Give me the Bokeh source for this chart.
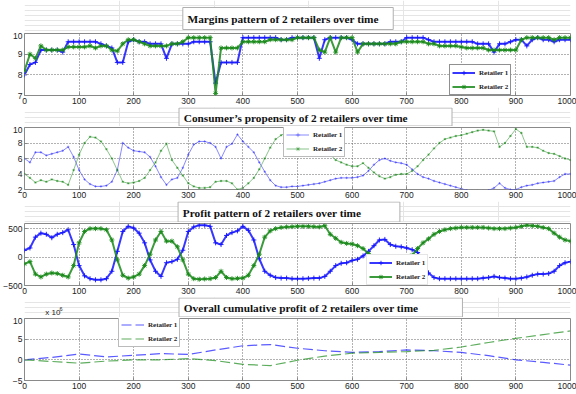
from bokeh.plotting import figure
from bokeh.models import Legend, LegendItem, FixedTicker, Range1d
from bokeh.layouts import column
from bokeh.core.properties import value
from bokeh.embed import file_html
from bokeh.resources import INLINE

# ---------------- data ----------------
t10 = list(range(0, 1001, 10))
t50 = list(range(0, 1001, 50))
x_ticks = [0, 100, 200, 300, 400, 500, 600, 700, 800, 900, 1000]
series_names = ["Retailer 1", "Retailer 2"]

margin_r1 = [8.0, 8.5, 8.6, 9.2, 9.2, 9.2, 9.2, 9.1, 9.6, 9.6,
             9.6, 9.6, 9.6, 9.6, 9.5, 9.4, 9.3, 8.6, 8.6, 9.6,
             9.7, 9.6, 9.6, 9.5, 9.5, 9.5, 8.8, 9.5, 9.5, 9.5,
             9.5, 9.6, 9.6, 9.6, 9.6, 7.6, 8.6, 8.6, 8.6, 8.6,
             9.8, 9.8, 9.8, 9.8, 9.8, 9.8, 9.8, 9.7, 9.7, 9.8,
             9.8, 9.8, 9.8, 9.8, 8.8, 9.7, 9.8, 9.8, 9.8, 9.8,
             9.7, 9.5, 9.5, 9.5, 9.5, 9.5, 9.5, 9.6, 9.6, 9.6,
             9.8, 9.8, 9.8, 9.8, 9.7, 9.6, 9.6, 9.6, 9.6, 9.6,
             9.6, 9.6, 9.6, 9.5, 9.5, 9.5, 9.1, 9.5, 9.5, 9.6,
             9.7, 9.7, 9.4, 9.7, 9.8, 9.7, 9.7, 9.6, 9.7, 9.7,
             9.7]
margin_r2 = [8.2, 9.0, 8.8, 9.4, 9.2, 9.2, 9.2, 9.2, 9.35, 9.35,
             9.35, 9.35, 9.4, 9.3, 9.4, 9.4, 9.2, 9.15, 9.5, 9.7,
             9.7, 9.6, 9.5, 9.4, 9.4, 9.4, 9.4, 9.5, 9.5, 9.6,
             9.8, 9.8, 9.8, 9.8, 9.8, 7.1, 9.3, 9.3, 9.3, 9.3,
             9.6, 9.6, 9.6, 9.6, 9.6, 9.7, 9.7, 9.7, 9.7, 9.7,
             9.8, 9.8, 9.8, 9.8, 9.2, 9.1, 9.8, 9.1, 9.8, 9.8,
             9.8, 9.1, 9.5, 9.5, 9.5, 9.5, 9.5, 9.5, 9.5, 9.6,
             9.6, 9.6, 9.6, 9.6, 9.5, 9.5, 9.4, 9.4, 9.4, 9.4,
             9.35, 9.3, 9.3, 9.3, 9.3, 9.2, 9.2, 9.2, 9.2, 9.2,
             9.2, 9.7, 9.8, 9.8, 9.8, 9.8, 9.8, 9.7, 9.8, 9.8,
             9.8]

propensity_r1 = [6.0, 5.5, 6.8, 6.8, 6.4, 6.6, 6.8, 7.0, 7.5, 6.2,
                 4.5, 3.3, 2.7, 2.4, 2.4, 2.5, 3.0, 4.5, 8.0, 7.4,
                 7.0, 6.9, 6.8, 6.2, 5.0, 3.6, 2.6, 3.3, 3.5, 4.8,
                 6.5, 7.8, 8.2, 8.2, 8.0, 7.5, 6.0, 7.5, 7.9, 9.1,
                 8.2, 7.5, 6.8, 5.5, 4.3, 3.2, 2.5, 2.3, 2.3, 2.4,
                 2.4, 2.5, 2.6, 2.7, 2.8, 3.0, 3.2, 3.4, 3.5, 3.5,
                 3.5, 3.6, 3.8, 4.4, 5.2, 5.8, 6.0, 5.7, 5.5, 5.4,
                 5.2, 4.6, 4.0, 3.6, 3.4, 3.1, 2.9, 2.7, 2.5, 2.3,
                 2.1, 1.9, 1.8, 1.8, 1.8, 1.9, 2.2, 2.8, 2.2, 2.0,
                 2.0, 2.3, 2.5, 2.6, 2.8, 2.9, 3.0, 3.1, 3.6, 4.0,
                 4.0]
propensity_r2 = [4.0, 3.5, 2.9, 3.2, 3.0, 3.3, 3.1, 3.0, 2.6, 4.5,
                 6.5, 8.0, 8.8, 8.7, 8.2, 7.2, 6.0, 4.5, 3.0, 2.8,
                 2.9, 3.1, 3.5, 4.5, 5.5, 7.0, 7.9, 5.8, 4.8, 3.8,
                 2.8, 2.4, 2.2, 2.2, 2.3, 3.0, 3.1, 3.1, 2.8, 2.0,
                 2.2, 2.8, 3.5, 4.6, 6.0, 7.4, 8.5, 9.0, 9.4, 9.2,
                 9.0, 8.8, 8.6, 8.4, 8.2, 7.5, 6.5, 5.8, 5.5, 5.2,
                 5.0, 5.0, 5.4, 4.8, 4.2, 3.7, 3.4, 3.6, 3.9, 4.0,
                 4.0, 4.4, 5.0, 5.8, 6.5, 7.3, 8.0, 8.5, 8.7, 8.9,
                 9.0, 9.2, 9.4, 9.6, 9.7, 9.6, 9.5, 7.5, 8.0, 8.9,
                 9.8, 9.3, 7.5, 7.5, 7.4, 7.0, 6.7, 6.6, 6.3, 6.0,
                 5.8]

profit_r1 = [120, 160, 350, 420, 400, 340, 400, 430, 480, 220,
             -150, -330, -380, -400, -400, -380, -250, 100, 450, 540,
             510, 420, 250, -50, -250, -340, -100, -80, -40, 120,
             450, 530, 560, 560, 540, 250, 220, 380, 430, 460,
             540, 470, 300, -30, -250, -320, -360, -370, -370, -380,
             -380, -380, -375, -370, -370, -340, -250, -150, -110, -100,
             -60, -40, 20, 100, 200, 300, 310, 220, 190, 180,
             160, 130, 80, -100, -280, -360, -380, -380, -380, -380,
             -380, -380, -380, -380, -370, -360, -340, -360, -370, -380,
             -380, -370, -350, -320, -300, -300, -290, -250, -150, -100,
             -80]
profit_r2 = [-120, -80, -300, -350, -300, -280, -290, -320, -350, -150,
             250, 450, 500, 500, 500, 480, 300, -50, -320, -370,
             -350, -300, -150, 50, 300, 450, 280, 280, 180, -50,
             -300, -380, -390, -385, -380, -360, -250, -360, -380, -375,
             -370, -320, -150, 50, 350, 460, 500, 520, 530, 535,
             540, 540, 540, 535, 530, 550, 400, 330, 260, 240,
             230, 200, 150, 60, -30, -100, -150, -100, -60, -30,
             -10, 30, 150, 250, 320, 400, 450, 480, 500, 510,
             520, 520, 520, 520, 520, 510, 500, 500, 500, 510,
             520, 540, 560, 550, 540, 520, 500, 420, 350, 300,
             280]

# cumulative profit, in units of 10^6
cum_r1 = [0.0, 0.6, 1.4, 0.7, 1.1, 1.5, 1.3, 2.4, 3.4, 3.7, 2.8,
          2.2, 1.8, 2.0, 2.4, 2.2, 1.8, 1.0, 0.0, -0.6, -1.3]
cum_r2 = [0.0, -0.4, -0.8, -0.3, 0.0, 0.0, 0.3, -0.2, -1.1, -1.4, -0.1,
          0.9, 1.6, 1.8, 2.0, 2.3, 3.1, 4.2, 5.2, 6.1, 7.0]

titles = ["Margins pattern of 2 retailers over time",
          "Consumer\u2019s propensity of 2 retailers over time",
          "Profit pattern of 2 retailers over time",
          "Overall cumulative profit of  2 retailers over time"]

BLUE = "#1414ff"
GREEN = "#1a8a1a"
W = 576


def title_fig(h, box, text):
    """A strip above a panel holding its boxed title (pixel coordinates, y down)."""
    p = figure(width=W, height=h, x_range=Range1d(0, W), y_range=Range1d(h, 0),
               output_backend="svg", toolbar_location=None, title=None,
               x_axis_location=None, y_axis_location=None, min_border=0)
    p.outline_line_color = None
    p.background_fill_color = "white"
    p.border_fill_color = "white"
    p.quad(left=[box[0]], right=[box[1]], top=[box[2]], bottom=[box[3]],
           fill_color="white", line_color="#b0b0b0", line_width=1)
    p.text(x=[box[0] + 5], y=[(box[2] + box[3]) / 2 + 0.5], text=[text],
           text_font=value("Liberation Serif"), text_font_style="bold",
           text_font_size=value("11.3px"), text_color="#111111",
           text_baseline="middle", text_align="left")
    return p


def make_fig(yr, yticks):
    p = figure(width=W, height=75, x_range=Range1d(0, 1000), y_range=Range1d(*yr),
               output_backend="svg", toolbar_location=None, title=None,
               min_border_left=22, min_border_right=6, min_border_top=1,
               min_border_bottom=12)
    p.background_fill_color = "white"
    p.border_fill_color = "white"
    p.outline_line_color = "#8a8a8a"
    p.outline_line_width = 1
    for ax in (p.xaxis[0], p.yaxis[0]):
        ax.axis_line_color = None
        ax.major_tick_in = 3
        ax.major_tick_out = 0
        ax.major_tick_line_color = "#888888"
        ax.minor_tick_line_color = None
        ax.major_label_text_font = "Liberation Sans"
        ax.major_label_text_font_size = "8.5px"
        ax.major_label_text_color = "#222222"
        ax.major_label_standoff = 2
    p.xaxis.ticker = FixedTicker(ticks=x_ticks)
    p.yaxis.ticker = FixedTicker(ticks=yticks)
    for g in (p.xgrid[0], p.ygrid[0]):
        g.grid_line_color = "#555555"
        g.grid_line_dash = "1 2"
        g.grid_line_alpha = 0.9
    return p


def add_series(p, t, y1, y2, size, lw, alpha, line_alpha):
    l1 = p.line(t, y1, color=BLUE, line_width=lw, line_alpha=line_alpha)
    s1 = p.scatter(t, y1, marker="cross", size=size, color=BLUE, alpha=alpha)
    l2 = p.line(t, y2, color=GREEN, line_width=lw, line_alpha=line_alpha)
    s2 = p.scatter(t, y2, marker="asterisk", size=size, color=GREEN, alpha=alpha)
    return [l1, s1], [l2, s2]


def add_legend(p, r1, r2, loc, border_color, border_width):
    leg = Legend(items=[LegendItem(label=series_names[0], renderers=r1),
                        LegendItem(label=series_names[1], renderers=r2)],
                 location=loc)
    leg.label_text_font = "Liberation Serif"
    leg.label_text_font_style = "bold"
    leg.label_text_font_size = "7px"
    leg.label_text_color = "#222222"
    leg.glyph_width = 23
    leg.glyph_height = 11
    leg.label_height = 11
    leg.label_standoff = 4
    leg.spacing = 3
    leg.padding = 2
    leg.margin = 0
    leg.border_line_color = border_color
    leg.border_line_width = border_width
    leg.background_fill_color = "white"
    leg.background_fill_alpha = 1
    p.add_layout(leg)


# Panel 1: margins
a1 = title_fig(32, (167, 389, 7, 29), titles[0])
p1 = make_fig((7, 10), [7, 8, 9, 10])
r1, r2 = add_series(p1, t10, margin_r1, margin_r2, 5, 2, 0.9, 0.85)
add_legend(p1, r1, r2, (425, 0), "#222222", 1.5)

# Panel 2: propensity
a2 = title_fig(19, (163, 451, 0.5, 18.5), titles[1])
p2 = make_fig((2, 10), [2, 4, 6, 8, 10])
r1, r2 = add_series(p2, t10, propensity_r1, propensity_r2, 2.5, 1, 0.4, 0.5)
add_legend(p2, r1, r2, (259, 32), "#777777", 1)

# Panel 3: profit
a3 = title_fig(21, (162, 396, 0.5, 20.5), titles[2])
p3 = make_fig((-500, 590), [-500, 0, 500])
r1, r2 = add_series(p3, t10, profit_r1, profit_r2, 5, 2, 0.9, 0.85)
add_legend(p3, r1, r2, (342, 0), "#cccccc", 1)

# Panel 4: cumulative profit (x 10^6)
a4 = title_fig(20, (163, 462, 0.5, 19.5), titles[3])
a4.text(x=[22], y=[15], text=["x 10"], text_font=value("Liberation Sans"),
        text_font_size=value("8px"), text_color="#222222", text_baseline="middle")
a4.text(x=[37], y=[11], text=["6"], text_font=value("Liberation Sans"),
        text_font_size=value("5.5px"), text_color="#222222", text_baseline="middle")
p4 = make_fig((-5, 10), [-5, 0, 5, 10])
l1 = p4.line(t50, cum_r1, color=BLUE, line_width=1.2, line_alpha=0.7, line_dash="10 4")
l2 = p4.line(t50, cum_r2, color=GREEN, line_width=1.2, line_alpha=0.7, line_dash="10 4")
add_legend(p4, [l1], [l2], (94, 33), "#777777", 1)

layout = column(a1, p1, a2, p2, a3, p3, a4, p4, spacing=0)
open("out.html", "w").write(file_html(layout, INLINE))
